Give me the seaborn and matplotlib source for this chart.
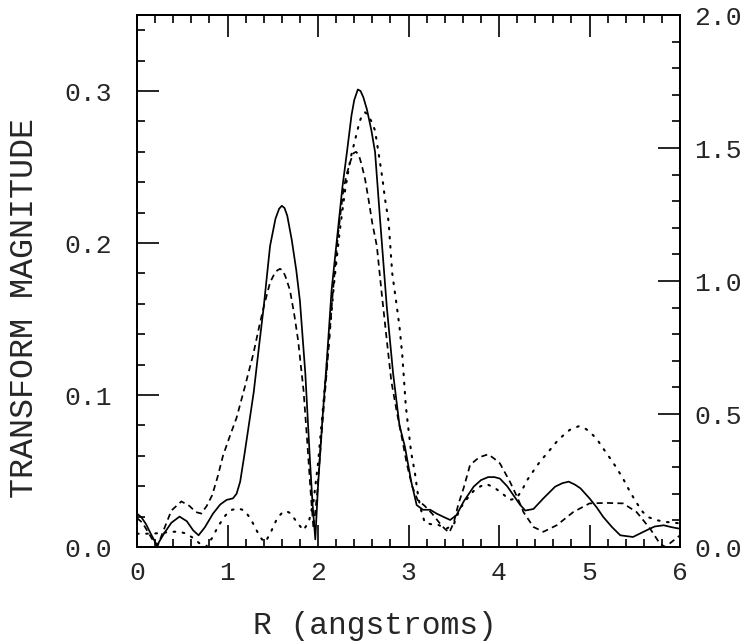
import numpy as np
import pandas as pd
import matplotlib
matplotlib.use('Agg')
import matplotlib.pyplot as plt
import seaborn as sns
from matplotlib.ticker import MultipleLocator, FormatStrFormatter

# solid curve, left axis (transform magnitude)
r_solid = [0.00, 0.05, 0.10, 0.15, 0.22, 0.30, 0.38, 0.47, 0.55, 0.62,
           0.68, 0.75, 0.84, 0.92, 0.99, 1.06, 1.10, 1.14, 1.19, 1.24,
           1.29, 1.35, 1.40, 1.47, 1.53, 1.57, 1.60, 1.63, 1.66, 1.71,
           1.76, 1.80, 1.86, 1.91, 1.94, 1.97, 2.00, 2.05, 2.10, 2.15,
           2.21, 2.27, 2.32, 2.37, 2.40, 2.44, 2.47, 2.50, 2.54, 2.59,
           2.63, 2.69, 2.76, 2.83, 2.90, 2.96, 3.03, 3.09, 3.16, 3.24,
           3.31, 3.38, 3.46, 3.53, 3.61, 3.72, 3.80, 3.88, 3.95, 4.01,
           4.09, 4.16, 4.23, 4.29, 4.38, 4.49, 4.62, 4.70, 4.77, 4.84,
           4.90, 5.00, 5.08, 5.15, 5.25, 5.34, 5.48, 5.63, 5.72, 5.82,
           5.91, 6.00]
mag_solid = [0.022, 0.0195, 0.015, 0.009, 0.001, 0.009, 0.016, 0.020, 0.017, 0.011,
             0.0077, 0.013, 0.022, 0.028, 0.031, 0.032, 0.035, 0.043, 0.062, 0.082,
             0.102, 0.133, 0.158, 0.198, 0.216, 0.2225, 0.2245, 0.223, 0.218, 0.202,
             0.182, 0.162, 0.114, 0.058, 0.028, 0.005, 0.040, 0.085, 0.125, 0.169,
             0.203, 0.237, 0.260, 0.284, 0.294, 0.301, 0.300, 0.296, 0.288, 0.274,
             0.260, 0.212, 0.158, 0.114, 0.080, 0.066, 0.043, 0.0276, 0.0245, 0.0245,
             0.022, 0.020, 0.0178, 0.021, 0.030, 0.0397, 0.044, 0.046, 0.046, 0.045,
             0.040, 0.034, 0.028, 0.024, 0.025, 0.032, 0.0397, 0.042, 0.043, 0.041,
             0.0386, 0.032, 0.026, 0.0199, 0.013, 0.0077, 0.0066, 0.011, 0.0135, 0.0143,
             0.013, 0.012]

# dashed curve, left axis
r_dash = [0.00, 0.06, 0.12, 0.18, 0.23, 0.30, 0.38, 0.49, 0.58, 0.65,
          0.71, 0.77, 0.83, 0.89, 0.95, 1.02, 1.10, 1.19, 1.285, 1.35,
          1.40, 1.47, 1.52, 1.55, 1.58, 1.61, 1.64, 1.69, 1.74, 1.78,
          1.84, 1.88, 1.92, 1.95, 1.99, 2.04, 2.10, 2.16, 2.22, 2.28,
          2.32, 2.36, 2.39, 2.42, 2.45, 2.48, 2.52, 2.56, 2.60, 2.65,
          2.70, 2.76, 2.81, 2.87, 2.92, 2.98, 3.04, 3.10, 3.18, 3.26,
          3.34, 3.40, 3.45, 3.50, 3.55, 3.61, 3.68, 3.78, 3.88, 3.95,
          4.01, 4.12, 4.20, 4.27, 4.38, 4.49, 4.64, 4.82, 5.00, 5.19,
          5.37, 5.52, 5.67, 5.78, 5.84, 5.90, 6.00]
mag_dash = [0.019, 0.016, 0.010, 0.004, 0.001, 0.012, 0.024, 0.030, 0.027, 0.023,
            0.022, 0.027, 0.034, 0.046, 0.060, 0.072, 0.085, 0.105, 0.127, 0.145,
            0.158, 0.174, 0.180, 0.182, 0.183, 0.182, 0.178, 0.169, 0.152, 0.136,
            0.103, 0.070, 0.035, 0.012, 0.035, 0.075, 0.118, 0.165, 0.205, 0.235,
            0.246, 0.254, 0.259, 0.260, 0.258, 0.252, 0.242, 0.228, 0.213, 0.198,
            0.169, 0.136, 0.109, 0.089, 0.074, 0.055, 0.040, 0.031, 0.027, 0.022,
            0.016, 0.012, 0.0095, 0.016, 0.028, 0.039, 0.054, 0.059, 0.061, 0.058,
            0.055, 0.043, 0.033, 0.023, 0.0132, 0.010, 0.0144, 0.023, 0.0287, 0.029,
            0.0287, 0.023, 0.012, 0.002, 0.000, 0.003, 0.0077]

# dotted curve, right axis
r_dot = [0.00, 0.10, 0.20, 0.30, 0.38, 0.46, 0.54, 0.62, 0.70, 0.76,
         0.83, 0.90, 0.98, 1.05, 1.12, 1.19, 1.26, 1.33, 1.38, 1.42,
         1.48, 1.55, 1.61, 1.65, 1.70, 1.77, 1.84, 1.90, 1.95, 2.00,
         2.06, 2.12, 2.18, 2.24, 2.30, 2.36, 2.41, 2.46, 2.49, 2.52,
         2.55, 2.59, 2.63, 2.68, 2.71, 2.74, 2.78, 2.82, 2.86, 2.90,
         2.93, 2.95, 2.97, 3.00, 3.03, 3.07, 3.10, 3.13, 3.18, 3.26,
         3.33, 3.42, 3.50, 3.57, 3.65, 3.72, 3.80, 3.86, 3.95, 4.04,
         4.12, 4.19, 4.25, 4.31, 4.38, 4.45, 4.55, 4.64, 4.72, 4.78,
         4.88, 4.95, 5.00, 5.08, 5.15, 5.22, 5.30, 5.38, 5.45, 5.52,
         5.59, 5.66, 5.74, 5.85, 6.00]
mag_dot = [0.050, 0.050, 0.051, 0.054, 0.057, 0.058, 0.051, 0.034, 0.011, 0.000,
           0.034, 0.080, 0.120, 0.140, 0.145, 0.137, 0.103, 0.057, 0.029, 0.019,
           0.057, 0.109, 0.131, 0.135, 0.126, 0.091, 0.063, 0.097, 0.171, 0.314,
           0.543, 0.771, 1.000, 1.189, 1.343, 1.463, 1.531, 1.600, 1.625, 1.634,
           1.625, 1.600, 1.566, 1.457, 1.389, 1.309, 1.223, 1.029, 0.931, 0.829,
           0.726, 0.629, 0.531, 0.440, 0.354, 0.280, 0.206, 0.149, 0.091, 0.085,
           0.083, 0.069, 0.085, 0.145, 0.183, 0.211, 0.229, 0.237, 0.223, 0.200,
           0.177, 0.183, 0.211, 0.251, 0.286, 0.320, 0.360, 0.397, 0.423, 0.440,
           0.454, 0.446, 0.434, 0.406, 0.371, 0.337, 0.297, 0.251, 0.206, 0.166,
           0.131, 0.111, 0.101, 0.094, 0.089]

solid = pd.DataFrame({'R': r_solid, 'mag': mag_solid})
dashed = pd.DataFrame({'R': r_dash, 'mag': mag_dash})
dotted = pd.DataFrame({'R': r_dot, 'mag': mag_dot})

sns.set_theme(style='ticks')
plt.rcParams['font.family'] = ['Liberation Mono', 'DejaVu Sans Mono']

fig = plt.figure(figsize=(7.45, 6.44), dpi=100)
ax = fig.add_axes([0.1839, 0.1506, 0.7289, 0.8261])
ax2 = ax.twinx()

sns.lineplot(data=solid, x='R', y='mag', ax=ax, color='black', linewidth=1.25)
sns.lineplot(data=dashed, x='R', y='mag', ax=ax, color='black', linewidth=1.25,
             linestyle=(0, (3.5, 2.5)))
sns.lineplot(data=dotted, x='R', y='mag', ax=ax2, color='black', linewidth=1.5,
             linestyle=(0, (0.8, 3.6)), dash_capstyle='round')

ax.set_xlim(0, 6)
ax.set_ylim(0, 0.35)
ax2.set_ylim(0, 2.0)

ax.xaxis.set_major_locator(MultipleLocator(1))
ax.xaxis.set_minor_locator(MultipleLocator(0.2))
ax.yaxis.set_major_locator(MultipleLocator(0.1))
ax.yaxis.set_minor_locator(MultipleLocator(0.02))
ax.yaxis.set_major_formatter(FormatStrFormatter('%.1f'))
ax2.yaxis.set_major_locator(MultipleLocator(0.5))
ax2.yaxis.set_minor_locator(MultipleLocator(0.1))
ax2.yaxis.set_major_formatter(FormatStrFormatter('%.1f'))

ax.tick_params(axis='x', which='both', direction='in', top=True, bottom=True,
               labelsize=19, pad=10)
ax.tick_params(axis='y', which='both', direction='in', left=True, right=False,
               labelsize=19, pad=18)
ax2.tick_params(axis='y', which='both', direction='in', right=True, left=False,
                labelsize=19, pad=10)
for a in (ax, ax2):
    a.tick_params(which='major', length=16, width=1.2, color='black')
    a.tick_params(which='minor', length=6, width=1.2, color='black')
    for s in a.spines.values():
        s.set_linewidth(1.4)
        s.set_color('black')
        s.set_visible(True)

ax.set_xlabel('R (angstroms)', fontsize=22.5)
ax.set_ylabel('TRANSFORM MAGNITUDE', fontsize=24)
ax2.set_ylabel('')
ax.xaxis.set_label_coords(0.438, -0.12)
ax.yaxis.set_label_coords(-0.178, 0.449)

fig.savefig('out.png', dpi=100)
